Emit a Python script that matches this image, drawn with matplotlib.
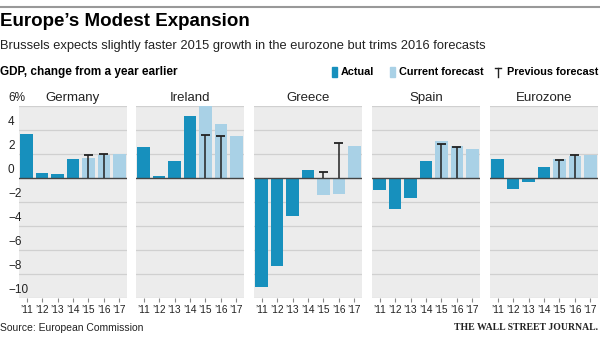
import matplotlib
matplotlib.use("Agg")
import matplotlib.pyplot as plt
from matplotlib.patches import Rectangle
from matplotlib.lines import Line2D
import matplotlib.transforms as mtransforms

plt.rcParams['font.family'] = ['Liberation Sans', 'DejaVu Sans']

# dados
countries = ["Germany", "Ireland", "Greece", "Spain", "Eurozone"]
years = ["\u201911", "\u201912", "\u201913", "\u201914", "\u201915", "\u201916", "\u201917"]
germany = [3.7, 0.4, 0.3, 1.6, 1.7, 1.9, 2.0]
ireland = [2.6, 0.2, 1.4, 5.2, 6.0, 4.5, 3.5]
greece = [-9.1, -7.3, -3.2, 0.7, -1.4, -1.3, 2.7]
spain = [-1.0, -2.6, -1.7, 1.4, 3.1, 2.7, 2.4]
eurozone = [1.6, -0.9, -0.3, 0.9, 1.6, 1.8, 1.9]
values = [germany, ireland, greece, spain, eurozone]
# previsao anterior para '15 e '16
prev_germany = [1.9, 2.0]
prev_ireland = [3.6, 3.5]
prev_greece = [0.5, 2.9]
prev_spain = [2.8, 2.6]
prev_eurozone = [1.5, 1.9]
prev_values = [prev_germany, prev_ireland, prev_greece, prev_spain, prev_eurozone]
n_actual = 4
yticks = [6, 4, 2, 0, -2, -4, -6, -8, -10]
ytick_labels = ["6%", "4", "2", "0", "\u22122", "\u22124", "\u22126", "\u22128", "\u221210"]

dark = "#1790bd"
light = "#a9d1e6"
bg = "#ececec"

W, H = 600, 337
fig = plt.figure(figsize=(W / 100, H / 100), dpi=100)

# linha no topo
fig.add_artist(Line2D([0, 1], [1 - 7 / H, 1 - 7 / H], color="#999999", lw=1.5))

fig.text(0, 1 - 22 / H, "Europe\u2019s Modest Expansion", fontsize=13.5, fontweight="bold",
         va="center", ha="left")
fig.text(0, 1 - 46 / H, "Brussels expects slightly faster 2015 growth in the eurozone but trims 2016 forecasts",
         fontsize=9.3, va="center", ha="left", color="#222222")
fig.text(0, 1 - 72 / H, "GDP, change from a year earlier", fontsize=8.5, fontweight="bold",
         va="center", ha="left")

# legenda
ly = 1 - 72 / H
fig.add_artist(Rectangle((332 / W, ly - 4.5 / H), 5 / W, 9 / H, color=dark, transform=fig.transFigure))
fig.text(341 / W, ly, "Actual", fontsize=7.8, fontweight="bold", va="center")
fig.add_artist(Rectangle((390 / W, ly - 4.5 / H), 5 / W, 9 / H, color=light, transform=fig.transFigure))
fig.text(399 / W, ly, "Current forecast", fontsize=7.8, fontweight="bold", va="center")
fig.add_artist(Line2D([498 / W, 498 / W], [ly - 4.5 / H, ly + 4.5 / H], color="#222222", lw=1))
fig.add_artist(Line2D([495 / W, 501 / W], [ly + 4.5 / H, ly + 4.5 / H], color="#222222", lw=1))
fig.text(598 / W, ly, "Previous forecast", fontsize=7.8, fontweight="bold", va="center", ha="right")

panel_x = [19, 136, 254, 372, 490]
pw = 108
top, bottom = 106, 298

x = list(range(len(years)))
for i in range(len(countries)):
    ax = fig.add_axes([panel_x[i] / W, (H - bottom) / H, pw / W, (bottom - top) / H])
    ax.set_facecolor(bg)
    ax.set_xlim(-0.5, 6.5)
    ax.set_ylim(-10, 6)
    for t in yticks:
        if t != 0:
            ax.axhline(t, color="#d0d0d0", lw=0.9, zorder=1)
    cols = [dark if k < n_actual else light for k in x]
    ax.bar(x, values[i], width=0.82, color=cols, zorder=2)
    ax.axhline(0, color="#444444", lw=1.0, zorder=3)
    px = [4, 5]
    ax.vlines(px, 0, prev_values[i], color="#222222", lw=1.1, zorder=4)
    ax.hlines(prev_values[i], [p - 0.3 for p in px], [p + 0.3 for p in px], color="#222222", lw=1.3, zorder=4)
    for s in ax.spines.values():
        s.set_visible(False)
    ax.set_yticks([])
    ax.set_xticks(x)
    ax.set_xticklabels(years, fontsize=7.3, color="#222222")
    ax.tick_params(axis="x", length=3, width=0.8, color="#888888", pad=2)
    ax.text(0.5, 1.0 + 8 / (bottom - top), countries[i], transform=ax.transAxes,
            ha="center", va="center", fontsize=9.5, color="#222222")
    if i == 0:
        tr = mtransforms.blended_transform_factory(fig.transFigure, ax.transData)
        for t, lab in zip(yticks, ytick_labels):
            ax.text(8 / W, t + 0.15, lab, transform=tr, ha="left", va="bottom",
                    fontsize=8.5, color="#222222")

fig.text(0, 1 - 328 / H, "Source: European Commission", fontsize=7.5, va="center", ha="left",
         color="#222222")
fig.text(598 / W, 1 - 327 / H, "THE WALL STREET JOURNAL.", fontsize=7, va="center", ha="right",
         family="Liberation Serif", fontweight="bold", color="#222222")

fig.savefig("out.png", dpi=100)
